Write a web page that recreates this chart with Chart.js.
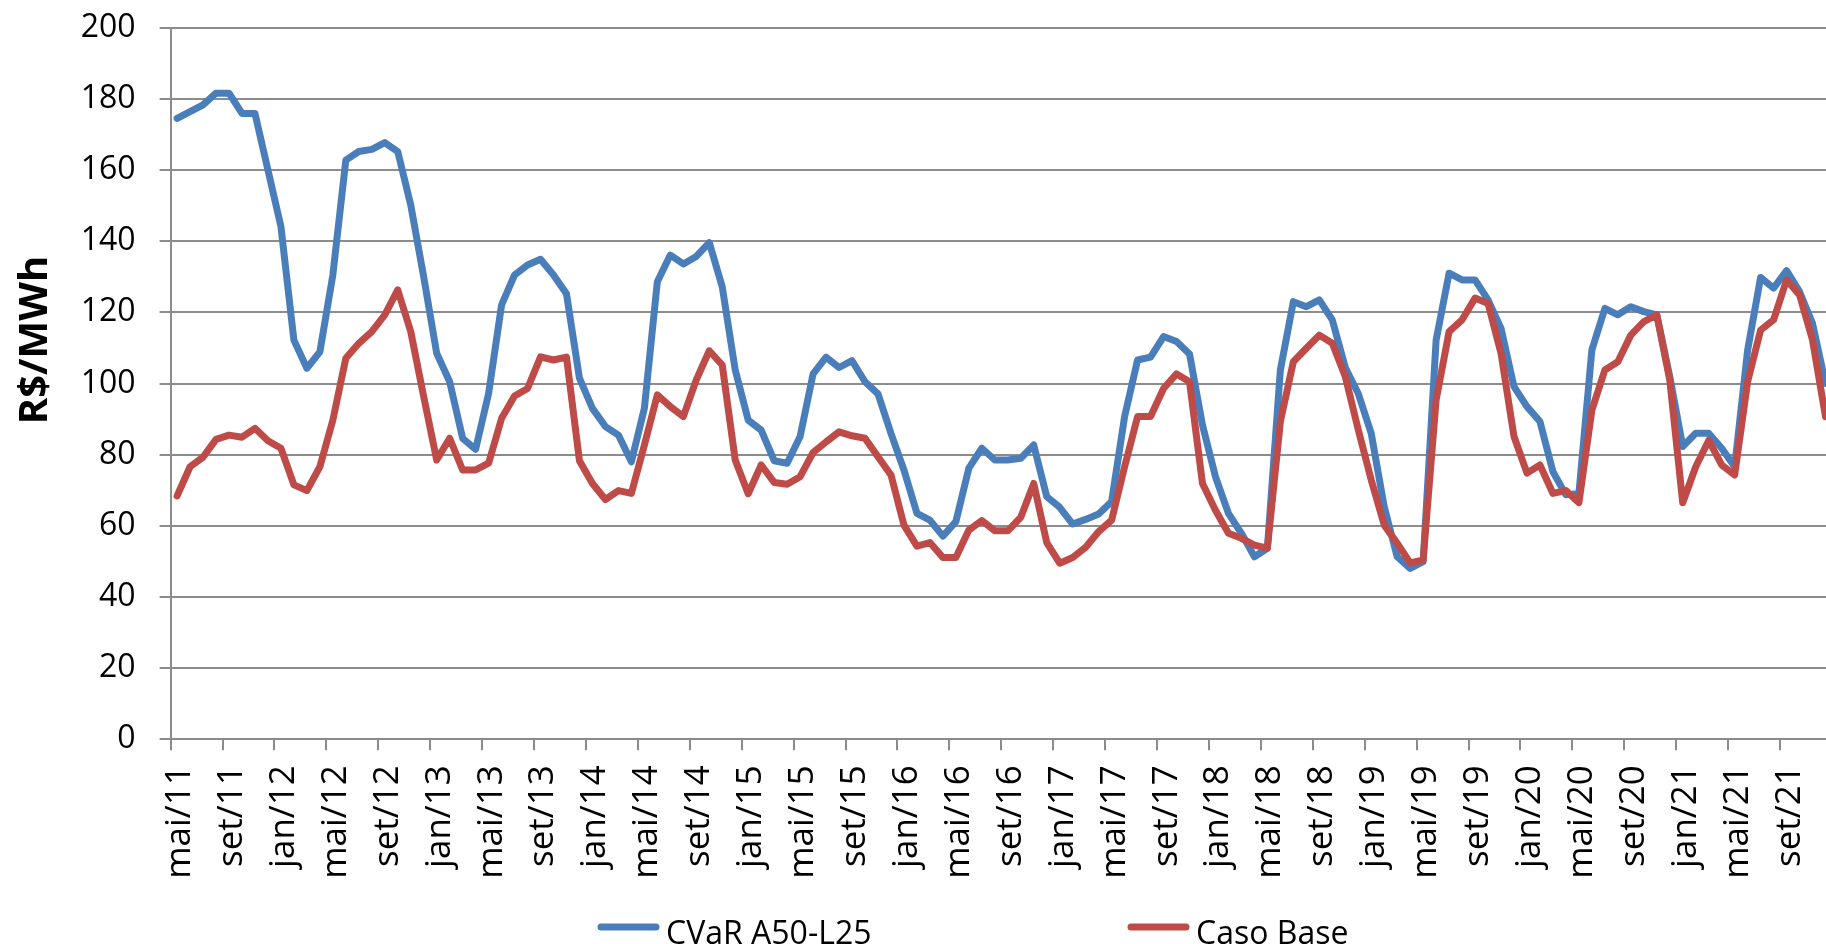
<!DOCTYPE html>
<html lang="pt-BR">
<head>
<meta charset="utf-8">
<title>R$/MWh</title>
<script src="https://cdn.jsdelivr.net/npm/chart.js@4"></script>
<style>
  html, body { margin: 0; padding: 0; background: #fff; overflow: hidden; }
  canvas { display: block; }
</style>
</head>
<body>
<canvas id="grafico" width="1840" height="944"></canvas>
<script>
// Dados (mensal, mai/11 a dez/21)
const meses = ["jan", "fev", "mar", "abr", "mai", "jun", "jul", "ago", "set", "out", "nov", "dez"];
const inicioMes = 4;   // mai
const inicioAno = 2011;
const nMeses = 128;

const cvar = [
  174.5, 176.4, 178.3, 181.6, 181.6, 175.9, 175.9, 160.0, 144.1, 112.2, 104.3, 108.9,
  130.5, 162.8, 165.2, 165.8, 167.7, 165.2, 150.2, 130.0, 108.5, 100.5, 84.6, 81.5,
  97.2, 122.1, 130.5, 133.3, 134.9, 130.5, 125.2, 101.5, 93.0, 87.9, 85.5, 78.0,
  93.0, 128.6, 136.1, 133.6, 135.7, 139.6, 127.2, 103.8, 89.7, 86.9, 78.3, 77.6,
  85.1, 102.7, 107.4, 104.5, 106.4, 100.5, 97.1, 86.0, 75.7, 63.5, 61.6, 57.1,
  61.2, 76.2, 81.8, 78.5, 78.5, 79.0, 82.7, 68.2, 65.2, 60.5, 61.8, 63.3,
  66.8, 90.7, 106.6, 107.4, 113.2, 111.8, 108.3, 88.3, 73.8, 63.5, 57.9, 51.3,
  53.7, 103.8, 123.0, 121.6, 123.5, 117.9, 104.5, 97.2, 86.0, 65.4, 51.3, 48.0,
  49.9, 112.2, 131.0, 129.1, 129.1, 123.5, 115.5, 99.1, 93.5, 89.3, 75.2, 68.7,
  69.1, 109.4, 121.1, 119.3, 121.6, 120.2, 119.3, 102.0, 82.3, 86.0, 86.0, 81.8,
  76.6, 109.4, 129.8, 126.8, 131.7, 125.8, 116.9, 100.0
];

const casoBase = [
  68.4, 76.6, 79.3, 84.3, 85.5, 84.9, 87.4, 83.9, 81.8, 71.5, 69.9, 76.6,
  89.7, 107.1, 111.3, 114.6, 119.3, 126.3, 114.6, 96.3, 78.5, 84.6, 75.7, 75.7,
  77.6, 90.2, 96.5, 98.6, 107.5, 106.6, 107.4, 78.3, 71.9, 67.4, 69.9, 69.1,
  82.7, 96.8, 93.5, 90.7, 101.0, 109.2, 105.2, 78.5, 69.0, 77.1, 72.2, 71.7,
  73.8, 80.6, 83.6, 86.4, 85.3, 84.6, 79.4, 74.3, 60.2, 54.3, 55.3, 51.1,
  51.1, 58.8, 61.5, 58.6, 58.6, 62.4, 71.9, 55.3, 49.5, 51.1, 54.0, 58.4,
  61.6, 76.6, 90.7, 90.7, 98.6, 102.7, 100.5, 71.9, 64.4, 57.9, 56.5, 54.6,
  53.7, 89.3, 106.1, 109.9, 113.6, 111.3, 102.0, 87.0, 72.9, 60.2, 55.1, 49.6,
  50.4, 95.4, 114.6, 117.9, 124.0, 122.5, 108.5, 85.1, 74.8, 77.1, 69.1, 69.9,
  66.5, 92.5, 103.8, 106.1, 113.6, 117.4, 119.3, 101.0, 66.5, 76.6, 84.0, 77.1,
  74.3, 100.5, 115.0, 117.9, 129.1, 124.9, 112.2, 90.7
];

const nomesSeries = ["CVaR A50-L25", "Caso Base"];
const tituloY = "R$/MWh";

// rótulos do eixo x: "mai/11", "jun/11", ...
const rotulos = [];
for (let i = 0; i < nMeses; i++) {
  const m = (inicioMes + i) % 12;
  const a = inicioAno + Math.floor((inicioMes + i) / 12);
  rotulos.push(meses[m] + "/" + String(a).slice(2));
}

const AZUL = "#4A7EBB";
const VERMELHO = "#BE4B48";
const GRADE = "#8c8c8c";
const FONTE = "'Open Sans', 'Noto Sans', sans-serif";

// Título do eixo y e legenda desenhados à mão
const extras = {
  id: "extras",
  afterDraw(chart) {
    const ctx = chart.ctx;
    ctx.save();
    ctx.fillStyle = "#000";
    ctx.font = "bold 40px " + FONTE;
    ctx.translate(47, 340);
    ctx.rotate(-Math.PI / 2);
    ctx.textAlign = "center";
    ctx.textBaseline = "alphabetic";
    ctx.fillText(tituloY, 0, 0);
    ctx.restore();

    const posLegenda = [598, 1128];
    ctx.save();
    ctx.font = "32px " + FONTE;
    ctx.textBaseline = "alphabetic";
    ctx.textAlign = "left";
    chart.data.datasets.forEach((ds, i) => {
      const x = posLegenda[i];
      ctx.strokeStyle = ds.borderColor;
      ctx.lineWidth = 7;
      ctx.lineCap = "round";
      ctx.beginPath();
      ctx.moveTo(x + 3, 927);
      ctx.lineTo(x + 58, 927);
      ctx.stroke();
      ctx.fillStyle = "#000";
      ctx.fillText(ds.label, x + 68, 944);
    });
    ctx.restore();
  }
};

new Chart(document.getElementById("grafico"), {
  type: "line",
  data: {
    labels: rotulos,
    datasets: [
      {
        label: nomesSeries[0],
        data: cvar,
        borderColor: AZUL,
        backgroundColor: AZUL,
        borderWidth: 7,
        pointRadius: 0,
        tension: 0,
        borderJoinStyle: "round",
        borderCapStyle: "round",
        order: 1
      },
      {
        label: nomesSeries[1],
        data: casoBase,
        borderColor: VERMELHO,
        backgroundColor: VERMELHO,
        borderWidth: 7,
        pointRadius: 0,
        tension: 0,
        borderJoinStyle: "round",
        borderCapStyle: "round",
        order: 0
      }
    ]
  },
  options: {
    responsive: false,
    animation: false,
    layout: { padding: { left: 0, right: 8, top: 27.7, bottom: 0 } },
    plugins: {
      legend: { display: false },
      tooltip: { enabled: false }
    },
    scales: {
      x: {
        offset: true,
        grid: {
          offset: true,
          drawOnChartArea: false,
          drawTicks: true,
          tickLength: 11,
          lineWidth: 2,
          color: (c) => (c.index % 4 === 0 ? GRADE : "rgba(0,0,0,0)")
        },
        border: { display: true, color: GRADE, width: 2 },
        ticks: {
          autoSkip: false,
          minRotation: 90,
          maxRotation: 90,
          padding: 15,
          labelOffset: 3,
          color: "#000",
          font: { family: FONTE, size: 35 },
          callback: function (v, i) { return i % 4 === 0 ? this.getLabelForValue(v) : ""; }
        },
        afterFit(s) {
          s.height = 204.7;
          s.paddingLeft = 0;
          s.paddingRight = 0;
        }
      },
      y: {
        min: 0,
        max: 200,
        grid: { color: GRADE, lineWidth: 2, tickLength: 11 },
        border: { display: true, color: GRADE, width: 2 },
        ticks: {
          stepSize: 20,
          padding: 24,
          color: "#000",
          font: { family: FONTE, size: 32 }
        },
        afterFit(s) {
          s.width = 170.6;
          s.paddingTop = 0;
          s.paddingBottom = 0;
        }
      }
    }
  },
  plugins: [extras]
});
</script>
</body>
</html>
